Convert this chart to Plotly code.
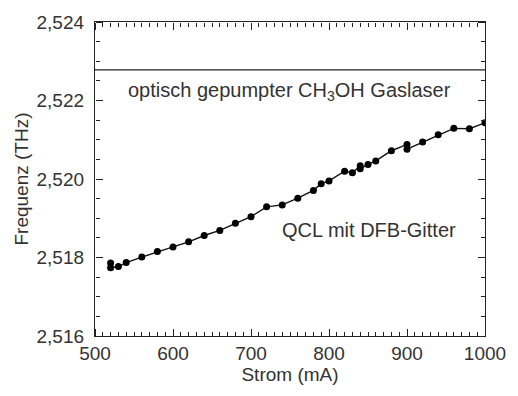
import plotly.graph_objects as go

# QCL emission frequency versus drive current
strom_ma = [520, 520, 530, 540, 560, 580, 600, 620, 640, 660, 680, 700, 720, 740,
            760, 780, 790, 800, 820, 830, 840, 840, 850, 860, 880, 900, 900, 920,
            940, 960, 980, 1000]
frequenz_thz = [2.51786, 2.51774, 2.51777, 2.51787, 2.51801, 2.51815, 2.51827,
                2.51840, 2.51856, 2.51869, 2.51887, 2.51904, 2.51929, 2.51934,
                2.51951, 2.51971, 2.51988, 2.51995, 2.52020, 2.52016, 2.52034,
                2.52026, 2.52037, 2.52046, 2.52072, 2.52088, 2.52076, 2.52094,
                2.52113, 2.52129, 2.52128, 2.52143]

# Reference line of the optically pumped CH3OH gas laser
gaslaser_thz = 2.52278

x_range = [500, 1000]
y_range = [2.516, 2.524]
x_ticks = [500, 600, 700, 800, 900, 1000]
y_ticks = [2.516, 2.518, 2.520, 2.522, 2.524]
x_minor_step = 10
y_minor_step = 0.0005

ink = "#333333"
frame = "#222222"
font = "Liberation Sans, Arial, sans-serif"

fig = go.Figure()
fig.add_trace(go.Scatter(
    x=x_range, y=[gaslaser_thz, gaslaser_thz], mode="lines",
    line=dict(color=frame, width=1.3), hoverinfo="skip", showlegend=False,
))
fig.add_trace(go.Scatter(
    x=strom_ma, y=frequenz_thz, mode="lines+markers",
    line=dict(color="#111111", width=1.4),
    marker=dict(color="#000000", size=7),
    showlegend=False,
))
# empty traces so the tick-only frame axes get their own subplots
for xa, ya in (("x2", "y2"), ("x3", "y3")):
    fig.add_trace(go.Scatter(x=[], y=[], xaxis=xa, yaxis=ya, showlegend=False,
                             hoverinfo="skip"))

fig.add_annotation(x=749, y=2.52222, text="optisch gepumpter CH<sub>3</sub>OH Gaslaser",
                   showarrow=False, font=dict(family=font, size=20, color=ink))
fig.add_annotation(x=851, y=2.51870, text="QCL mit DFB-Gitter",
                   showarrow=False, font=dict(family=font, size=20, color=ink))

# labelled axes: frame line and numbers, no ticks
main_axis = dict(
    showgrid=False, zeroline=False, showline=True, linecolor=frame, linewidth=1.3,
    mirror=True, ticks="", tickfont=dict(family=font, size=19, color=ink),
)


# tick-only axes sitting on the frame with ticks pointing into the plot area
def tick_axis(rng, vals, step, side, pos, over):
    return dict(
        range=rng, tickmode="array", tickvals=vals, showticklabels=False,
        overlaying=over, anchor="free", position=pos, side=side,
        showgrid=False, zeroline=False, showline=False,
        ticks="outside", ticklen=7, tickwidth=1.3, tickcolor=frame,
        minor=dict(ticks="outside", ticklen=4, tick0=rng[0], dtick=step,
                   tickwidth=1, tickcolor=frame, showgrid=False),
    )


fig.update_layout(
    xaxis=dict(range=x_range, tickmode="array", tickvals=x_ticks, **main_axis,
               title=dict(text="Strom (mA)", font=dict(family=font, size=19, color=ink),
                          standoff=2)),
    yaxis=dict(range=y_range, tickmode="array", tickvals=y_ticks, tickformat=".3f",
               ticklabelstandoff=6, **main_axis,
               title=dict(text="Frequenz (THz)", font=dict(family=font, size=19, color=ink),
                          standoff=2)),
    xaxis2=tick_axis(x_range, x_ticks, x_minor_step, "top", 0, "x"),
    yaxis2=tick_axis(y_range, y_ticks, y_minor_step, "right", 0, "y"),
    xaxis3=tick_axis(x_range, x_ticks, x_minor_step, "bottom", 1, "x"),
    yaxis3=tick_axis(y_range, y_ticks, y_minor_step, "left", 1, "y"),
    width=518, height=396,
    margin=dict(l=95, r=24, t=19, b=60),
    plot_bgcolor="white", paper_bgcolor="white",
    separators=",.",
    font=dict(family=font, color=ink),
)

fig.write_html("out.html")
